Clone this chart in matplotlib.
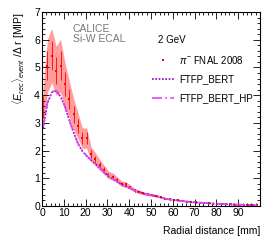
import numpy as np
import matplotlib
matplotlib.use("Agg")
from matplotlib import pyplot as plt
from matplotlib.ticker import MultipleLocator

plt.rcParams['font.family'] = ['Liberation Sans', 'DejaVu Sans']
plt.rcParams['mathtext.fontset'] = 'custom'
plt.rcParams['mathtext.rm'] = 'Liberation Sans'
plt.rcParams['mathtext.it'] = 'Liberation Sans:italic'

# radial bin centres [mm]
radius = np.arange(0.5, 100, 2.0)

data_fnal = [3.57, 5.06, 5.43, 4.88, 5.06, 4.39, 3.86, 3.31, 2.90, 2.45,
             2.45, 1.87, 1.68, 1.48, 1.30, 1.12, 1.06, 0.94, 0.80, 0.78,
             0.68, 0.56, 0.52, 0.46, 0.42, 0.40, 0.37, 0.32, 0.27, 0.24,
             0.22, 0.20, 0.18, 0.16, 0.14, 0.13, 0.12, 0.11, 0.10, 0.085,
             0.075, 0.068, 0.060, 0.055, 0.050, 0.045, 0.040, 0.036, 0.033, 0.030]
# relative systematic uncertainty (band)
rel_err = [0.20, 0.19, 0.18, 0.18, 0.19, 0.18, 0.17, 0.17, 0.16, 0.15,
           0.15, 0.14, 0.14, 0.13, 0.13, 0.12, 0.12, 0.12, 0.12, 0.12,
           0.12, 0.12, 0.12, 0.12, 0.12, 0.12, 0.12, 0.12, 0.12, 0.12,
           0.12, 0.12, 0.12, 0.12, 0.12, 0.12, 0.12, 0.12, 0.12, 0.12,
           0.12, 0.12, 0.12, 0.12, 0.12, 0.12, 0.12, 0.12, 0.12, 0.12]

ftfp_bert = [2.80, 3.70, 4.10, 4.15, 3.95, 3.60, 3.10, 2.65, 2.25, 1.98,
             1.80, 1.65, 1.52, 1.38, 1.22, 1.08, 0.97, 0.88, 0.78, 0.70,
             0.63, 0.56, 0.50, 0.45, 0.41, 0.38, 0.35, 0.31, 0.27, 0.24,
             0.22, 0.20, 0.18, 0.16, 0.145, 0.13, 0.12, 0.11, 0.10, 0.09,
             0.08, 0.072, 0.064, 0.058, 0.052, 0.047, 0.042, 0.038, 0.034, 0.031]
ftfp_bert_hp = [2.85, 3.72, 4.12, 4.16, 3.96, 3.60, 3.11, 2.66, 2.26, 1.99,
                1.81, 1.66, 1.53, 1.39, 1.23, 1.09, 0.98, 0.89, 0.79, 0.71,
                0.64, 0.57, 0.51, 0.46, 0.42, 0.39, 0.35, 0.31, 0.27, 0.24,
                0.22, 0.20, 0.18, 0.16, 0.145, 0.13, 0.12, 0.11, 0.10, 0.09,
                0.08, 0.072, 0.064, 0.058, 0.052, 0.047, 0.042, 0.038, 0.034, 0.031]

y = np.array(data_fnal)
err = y * np.array(rel_err)

fig = plt.figure(figsize=(2.74, 2.40), dpi=100)
ax = fig.add_axes([42 / 274, 34 / 240, 218 / 274, 194 / 240])

ax.fill_between(radius, y - err, y + err, color='#ff3a3a', alpha=0.5, lw=0)
ax.errorbar(radius, y, yerr=err * 0.55, fmt='none', color='red',
            elinewidth=0.6, capsize=0)
h_data, = ax.plot(radius, y, 's', ms=1.6, color='red', mew=0)
h_bert, = ax.plot(radius, ftfp_bert, ls=(0, (1, 1)), color='#8800bb', lw=1.2)
h_hp, = ax.plot(radius, ftfp_bert_hp, ls=(0, (6, 2, 1, 2)), color='#dd44ff', lw=1.2)

ax.set_xlim(0, 100)
ax.set_ylim(0, 7)
ax.xaxis.set_major_locator(MultipleLocator(10))
ax.xaxis.set_minor_locator(MultipleLocator(2))
ax.yaxis.set_major_locator(MultipleLocator(1))
ax.yaxis.set_minor_locator(MultipleLocator(0.2))
ax.set_xticks(np.arange(0, 100, 10))
ax.tick_params(which='both', direction='in', top=True, right=True, labelsize=7.5,
               width=0.6, pad=1.5)
ax.tick_params(which='major', length=5)
ax.tick_params(which='minor', length=2.5)
for s in ax.spines.values():
    s.set_linewidth(0.8)

ax.set_xlabel('Radial distance [mm]', fontsize=7.5, loc='right', labelpad=6)
ax.set_ylabel(r'$\langle E_{rec}\rangle_{event}$ /$\Delta$ r [MIP]', fontsize=7.5,
              loc='top', labelpad=5)

ax.text(0.14, 0.94, 'CALICE\nSi-W ECAL', transform=ax.transAxes, fontsize=7.5,
        color='#777777', va='top', linespacing=1.05)
ax.text(0.53, 0.88, '2 GeV', transform=ax.transAxes, fontsize=7, va='top')
ax.legend([h_data, h_bert, h_hp], [r'$\pi^{-}$ FNAL 2008', 'FTFP_BERT', 'FTFP_BERT_HP'],
          loc='upper right', bbox_to_anchor=(1.0, 0.82), frameon=False, fontsize=7,
          handlelength=2.2, handletextpad=0.6, labelspacing=0.9, borderpad=0.2,
          markerscale=1.3)

fig.savefig('out.png', dpi=100)
